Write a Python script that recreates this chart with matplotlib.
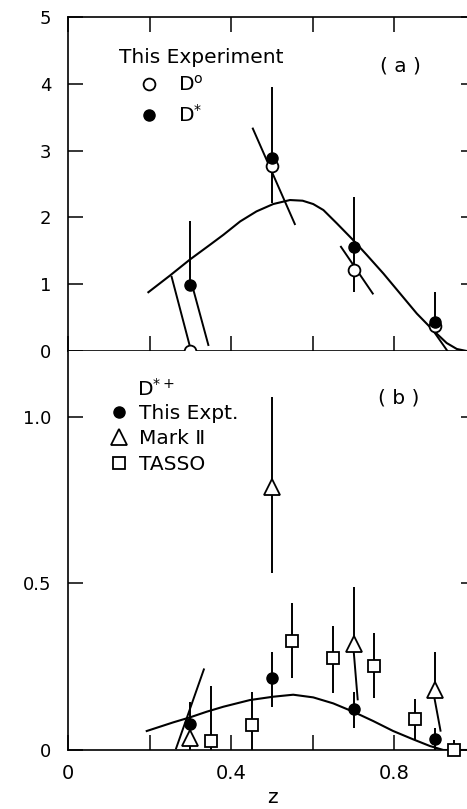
import matplotlib
matplotlib.use("Agg")
import matplotlib.pyplot as plt

plt.rcParams['font.family'] = ['DejaVu Sans']
plt.rcParams['mathtext.default'] = 'regular'

# ---------------- Panel (a) data ----------------
z_a = [0.3, 0.5, 0.7, 0.9]
d0_a = [0.0, 2.77, 1.22, 0.37]
dstar_a = [0.99, 2.89, 1.55, 0.44]
bar_a_lo = [0.99, 2.21, 0.89, 0.40]
bar_a_hi = [1.94, 3.95, 2.30, 0.89]
# slanted error segments (z0, y0) -> (z1, y1)
slant_a_z0 = [0.254, 0.304, 0.453, 0.669, 0.891]
slant_a_y0 = [1.11, 0.99, 3.33, 1.56, 0.34]
slant_a_z1 = [0.300, 0.344, 0.556, 0.747, 0.930]
slant_a_y1 = [0.04, 0.09, 1.90, 0.86, 0.0]
curve_a_z = [0.197, 0.25, 0.299, 0.348, 0.381, 0.422, 0.462, 0.503, 0.544, 0.575,
             0.601, 0.626, 0.659, 0.699, 0.732, 0.773, 0.814, 0.855, 0.895, 0.928,
             0.953, 0.977, 1.0]
curve_a_y = [0.88, 1.13, 1.37, 1.59, 1.74, 1.94, 2.09, 2.20, 2.26, 2.25,
             2.20, 2.11, 1.91, 1.66, 1.44, 1.16, 0.86, 0.56, 0.31, 0.12,
             0.03, 0.0, 0.0]

# ---------------- Panel (b) data ----------------
z_this = [0.3, 0.5, 0.7, 0.9]
y_this = [0.077, 0.217, 0.122, 0.032]
lo_this = [0.03, 0.13, 0.065, 0.0]
hi_this = [0.145, 0.295, 0.173, 0.066]

z_mk2 = [0.3, 0.5, 0.7, 0.9]
y_mk2 = [0.035, 0.79, 0.318, 0.18]
lo_mk2 = [0.0, 0.53, 0.318, 0.18]
hi_mk2 = [0.035, 1.06, 0.49, 0.295]
slant_b_z0 = [0.333, 0.700, 0.896]
slant_b_y0 = [0.242, 0.300, 0.170]
slant_b_z1 = [0.265, 0.710, 0.913]
slant_b_y1 = [0.005, 0.152, 0.058]

z_tasso = [0.35, 0.45, 0.55, 0.65, 0.75, 0.85, 0.945]
y_tasso = [0.027, 0.075, 0.327, 0.275, 0.253, 0.093, 0.0]
lo_tasso = [0.0, 0.0, 0.215, 0.17, 0.155, 0.03, 0.0]
hi_tasso = [0.193, 0.175, 0.44, 0.373, 0.35, 0.153, 0.03]

curve_b_z = [0.193, 0.258, 0.299, 0.340, 0.381, 0.446, 0.503, 0.552, 0.601, 0.650,
             0.699, 0.748, 0.797, 0.846, 0.887, 0.92, 1.0]
curve_b_y = [0.057, 0.083, 0.098, 0.115, 0.130, 0.150, 0.160, 0.166, 0.158, 0.140,
             0.115, 0.087, 0.057, 0.032, 0.012, 0.0, 0.0]

xticks = [0, 0.2, 0.4, 0.6, 0.8]
xticklabels = ['0', '', '0.4', '', '0.8']
yticks_a = [0, 1, 2, 3, 4, 5]
yticks_b = [0, 0.5, 1.0]
yticklabels_b = ['0', '0.5', '1.0']

W, H = 467, 809
fig = plt.figure(figsize=(W / 100, H / 100), dpi=100)
x0, x1 = 68, 476
ya_top, ya_bot, yb_bot = 17, 351, 750
ax_a = fig.add_axes([x0 / W, 1 - ya_bot / H, (x1 - x0) / W, (ya_bot - ya_top) / H])
ax_b = fig.add_axes([x0 / W, 1 - yb_bot / H, (x1 - x0) / W, (yb_bot - ya_bot) / H])

lw_sp = 1.2
for ax in (ax_a, ax_b):
    for s in ax.spines.values():
        s.set_linewidth(lw_sp)
    ax.set_xlim(0, 1.0)
    ax.tick_params(direction='in', length=11, width=1.1, labelsize=13, pad=12,
                   top=True, right=True)
ax_b.spines['top'].set_visible(False)

ebc = dict(color='black', lw=1.4)
txt = 14.5

# ---- panel (a) ----
ax_a.set_ylim(0, 5)
ax_a.set_yticks(yticks_a)
ax_a.set_xticks(xticks)
ax_a.tick_params(axis='x', labelbottom=False)
ax_a.plot(curve_a_z, curve_a_y, color='black', lw=1.5, solid_joinstyle='round')
ax_a.vlines(z_a, bar_a_lo, bar_a_hi, **ebc)
for zz0, yy0, zz1, yy1 in zip(slant_a_z0, slant_a_y0, slant_a_z1, slant_a_y1):
    ax_a.plot([zz0, zz1], [yy0, yy1], **ebc)
h_d0, = ax_a.plot(z_a, d0_a, 'o', ms=8.5, mfc='white', mec='black', mew=1.3,
                  ls='none', zorder=4, clip_on=False)
h_ds, = ax_a.plot(z_a, dstar_a, 'o', ms=8, mfc='black', mec='black',
                  ls='none', zorder=5)
ax_a.text(0.125, 0.88, 'This Experiment', transform=ax_a.transAxes,
          fontsize=txt, ha='left', va='center')
ax_a.text(0.815, 0.852, '( a )', transform=ax_a.transAxes,
          fontsize=txt, ha='center', va='center')
ax_a.legend([h_d0, h_ds], [r'D$^{o}$', r'D$^{*}$'], loc='upper left',
            bbox_to_anchor=(0.175, 0.827), frameon=False, fontsize=txt,
            handlelength=1.0, handletextpad=0.9, labelspacing=0.45,
            borderpad=0, borderaxespad=0)

# ---- panel (b) ----
ax_b.set_ylim(0, 1.198)
ax_b.set_yticks(yticks_b)
ax_b.set_yticklabels(yticklabels_b)
ax_b.set_xticks(xticks)
ax_b.set_xticklabels(xticklabels)
ax_b.tick_params(axis='x', top=False, pad=10, labelsize=14)
ax_b.plot(curve_b_z, curve_b_y, color='black', lw=1.5, solid_joinstyle='round')
ax_b.vlines(z_this, lo_this, hi_this, **ebc)
ax_b.vlines(z_mk2, lo_mk2, hi_mk2, **ebc)
ax_b.vlines(z_tasso, lo_tasso, hi_tasso, **ebc)
for zz0, yy0, zz1, yy1 in zip(slant_b_z0, slant_b_y0, slant_b_z1, slant_b_y1):
    ax_b.plot([zz0, zz1], [yy0, yy1], **ebc)
h_t, = ax_b.plot(z_tasso, y_tasso, 's', ms=8.5, mfc='white', mec='black', mew=1.3,
                 ls='none', zorder=4, clip_on=False)
h_m, = ax_b.plot(z_mk2, y_mk2, '^', ms=11, mfc='white', mec='black', mew=1.3,
                 ls='none', zorder=4)
h_c, = ax_b.plot(z_this, y_this, 'o', ms=8, mfc='black', mec='black',
                 ls='none', zorder=5)
ax_b.text(0.17, 0.905, r'D$^{*+}$', transform=ax_b.transAxes,
          fontsize=txt, ha='left', va='center')
ax_b.text(0.81, 0.882, '( b )', transform=ax_b.transAxes,
          fontsize=txt, ha='center', va='center')
ax_b.legend([h_c, h_m, h_t], ['This Expt.', 'Mark \u2161', 'TASSO'], loc='upper left',
            bbox_to_anchor=(0.1, 0.868), frameon=False, fontsize=txt,
            handlelength=1.0, handletextpad=0.5, labelspacing=0.32,
            borderpad=0, borderaxespad=0)
ax_b.set_xlabel('z', fontsize=txt, labelpad=4)

fig.savefig('out.png', dpi=100)
